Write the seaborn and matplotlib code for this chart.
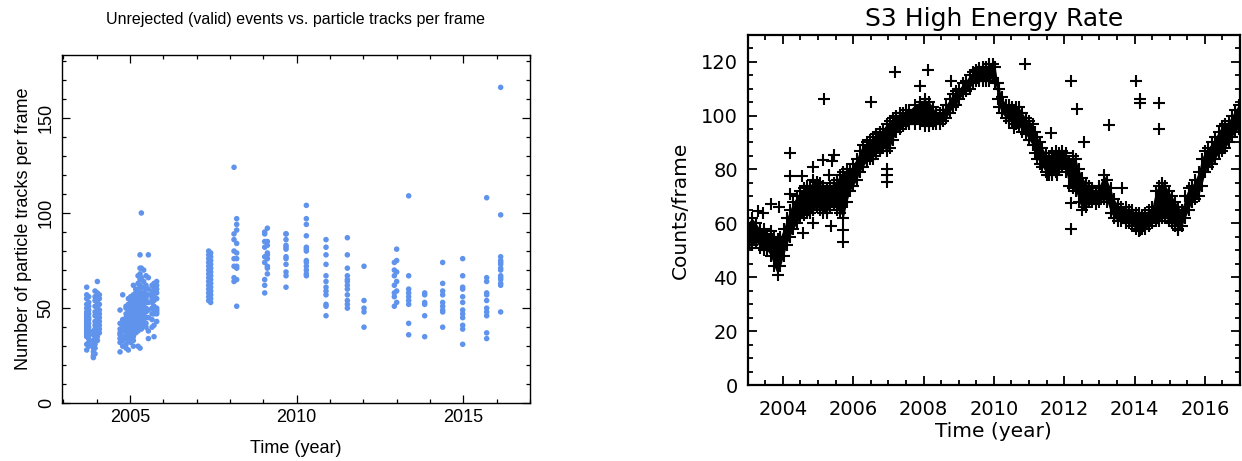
import numpy as np
import pandas as pd
import matplotlib
matplotlib.use("Agg")
import matplotlib.pyplot as plt
import seaborn as sns
from matplotlib.ticker import MultipleLocator

# ---------------- Left panel data: particle tracks per frame ----------------
track_cols = [2003.70, 2003.76, 2003.90, 2003.95, 2004.02, 2004.08,
              2004.70, 2004.78, 2004.88, 2004.95, 2005.02, 2005.10, 2005.17,
              2005.24, 2005.30, 2005.34, 2005.41, 2005.48, 2005.55, 2005.66,
              2005.72, 2005.80,
              2007.36, 2007.42, 2008.12, 2008.20, 2009.04, 2009.12, 2009.68,
              2010.29, 2010.88, 2011.52, 2012.02, 2012.93, 2013.00, 2013.36,
              2013.84, 2014.38, 2014.98, 2015.70, 2016.12]
track_vals = [
    [61, 57, 55, 52, 50, 48, 47, 46, 45, 44, 43, 42, 41, 40, 39, 38, 37, 36, 35, 31, 28],
    [56, 53, 51, 49, 47, 45, 44, 42, 40, 38, 36, 34, 32, 30],
    [24, 25, 27, 29, 31, 33, 36, 38],
    [59, 56, 54, 51, 48, 46, 43, 41, 39, 37, 35, 33, 31, 29, 26],
    [64, 58, 57, 55, 53, 50, 48, 46, 44, 43, 42, 40, 38, 35, 33],
    [57, 55, 52, 49, 47, 45, 43, 41, 39, 37],
    [49, 42, 39, 37, 36, 34, 32, 27],
    [57, 44, 42, 40, 38, 35, 33, 30],
    [51, 50, 47, 45, 43, 41, 39, 38, 36, 34, 31, 29],
    [55, 52, 50, 48, 46, 44, 42, 40, 37, 35, 33, 28],
    [56, 54, 53, 51, 49, 47, 45, 43, 41, 39, 36, 34, 32],
    [62, 57, 55, 53, 51, 50, 48, 46, 44, 42, 40, 38, 35, 33, 30],
    [60, 58, 56, 54, 52, 50, 49, 47, 45, 43, 41, 39, 37],
    [67, 63, 60, 58, 56, 54, 52, 51, 49, 47, 45, 43, 41, 38, 30],
    [78, 71, 68, 65, 62, 60, 57, 55, 53, 51, 49, 47, 45, 42, 40, 29],
    [100, 71, 66, 61, 58, 55, 52, 50, 48, 46, 44, 42, 39],
    [70, 64, 61, 58, 56, 54, 52, 50, 48, 46, 43, 41],
    [67, 62, 60, 57, 55, 53, 50, 48, 45, 42, 40],
    [78, 66, 60, 57, 53, 49, 45, 38, 34],
    [62, 59, 57, 55, 53, 50, 47, 44, 40],
    [63, 61, 58, 56, 54, 51, 49, 47, 41, 35],
    [64, 62, 60, 58, 55, 50, 49, 48, 47, 43],
    [80, 78, 76, 74, 72, 70, 68, 66, 64, 62, 60, 58, 56, 54],
    [79, 77, 75, 73, 71, 69, 67, 65, 63, 61, 59, 57, 55, 53],
    [124, 89, 86, 80, 76, 72, 66, 64],
    [97, 94, 91, 84, 79, 76, 72, 71, 65, 51],
    [90, 89, 85, 82, 77, 74, 65, 62, 58],
    [92, 85, 83, 79, 78, 76, 72, 71, 68],
    [89, 89, 86, 83, 82, 81, 77, 76, 73, 69, 67, 61],
    [104, 97, 94, 88, 82, 81, 80, 75, 74, 72, 70, 68, 67],
    [86, 82, 78, 73, 67, 64, 61, 59, 57, 52, 51, 46],
    [87, 78, 71, 67, 65, 64, 62, 60, 57, 54, 52, 50],
    [72, 54, 50, 48, 40],
    [74, 70, 67, 62, 58, 56, 51],
    [81, 75, 69, 64, 59, 53],
    [109, 67, 60, 58, 56, 54, 52, 42, 36],
    [58, 57, 53, 52, 46, 35],
    [74, 63, 59, 57, 53, 51, 49, 48, 40],
    [76, 67, 61, 60, 56, 53, 49, 47, 45, 41, 39, 31],
    [108, 66, 64, 58, 57, 54, 50, 48, 46, 37, 34],
    [166, 99, 77, 75, 74, 73, 71, 70, 67, 66, 65, 63, 62, 48],
]

# ---------------- Right panel data: S3 high energy rate ----------------
rate_years = [2003.00, 2003.12, 2003.24, 2003.36, 2003.46, 2003.55, 2003.65, 2003.75,
              2003.85, 2003.93, 2004.02, 2004.11, 2004.20, 2004.30, 2004.40, 2004.49,
              2004.60, 2004.70, 2004.77, 2004.87, 2004.96, 2005.05, 2005.15, 2005.25,
              2005.34, 2005.44, 2005.53, 2005.63, 2005.72, 2005.82, 2005.91, 2006.00,
              2006.10, 2006.19, 2006.28, 2006.38, 2006.47, 2006.57, 2006.66, 2006.76,
              2006.85, 2006.95, 2007.04, 2007.13, 2007.23, 2007.33, 2007.42, 2007.51,
              2007.60, 2007.75, 2007.89, 2008.03, 2008.17, 2008.27, 2008.36, 2008.46,
              2008.55, 2008.64, 2008.74, 2008.83, 2008.93, 2009.02, 2009.12, 2009.21,
              2009.31, 2009.40, 2009.50, 2009.59, 2009.69, 2009.78, 2009.87, 2009.97,
              2010.04, 2010.11, 2010.16, 2010.22, 2010.35, 2010.44, 2010.53, 2010.62,
              2010.72, 2010.81, 2010.91, 2011.00, 2011.10, 2011.17, 2011.24, 2011.31,
              2011.38, 2011.47, 2011.57, 2011.66, 2011.76, 2011.86, 2011.95, 2012.05,
              2012.14, 2012.24, 2012.33, 2012.42, 2012.52, 2012.62, 2012.71, 2012.80,
              2012.90, 2013.00, 2013.13, 2013.22, 2013.32, 2013.42, 2013.52, 2013.62,
              2013.75, 2013.84, 2013.94, 2014.03, 2014.12, 2014.22, 2014.31, 2014.40,
              2014.50, 2014.60, 2014.69, 2014.78, 2014.88, 2014.97, 2015.07, 2015.16,
              2015.25, 2015.35, 2015.44, 2015.54, 2015.63, 2015.72, 2015.82, 2015.91,
              2016.01, 2016.10, 2016.20, 2016.30, 2016.39, 2016.48, 2016.58, 2016.68,
              2016.77, 2016.86, 2016.96]
rate_low = [51, 52, 53, 51, 50, 50, 48, 44,
            41, 44, 48, 52, 55, 58, 60, 62,
            63, 64, 64, 65, 66, 65, 64, 64,
            66, 67, 65, 64, 62, 68, 72, 74,
            76, 79, 81, 83, 84, 85, 86, 87,
            88, 87, 88, 91, 94, 95, 96, 97,
            97, 97, 97, 96, 96, 97, 97, 97,
            98, 99, 101, 103, 104, 106, 108, 109,
            110, 112, 113, 113, 113, 113, 113, 114,
            112, 106, 103, 101, 99, 98, 98, 97,
            96, 94, 93, 91, 89, 86, 84, 82,
            81, 79, 78, 78, 79, 80, 81, 79,
            74, 73, 72, 68, 65, 66, 68, 68,
            67, 68, 69, 68, 64, 62, 61, 61,
            60, 60, 59, 58, 57, 58, 58, 59,
            60, 61, 61, 62, 62, 61, 60, 59,
            58, 59, 62, 65, 68, 69, 70, 74,
            79, 81, 82, 84, 86, 87, 88, 90,
            92, 94, 95]
rate_high = [60, 62, 60, 57.5, 58, 56, 57, 55,
             54, 55, 58, 62, 65, 68, 70, 72,
             73, 74, 74, 76, 75.5, 75, 74, 73,
             74, 75, 76, 78, 79, 80, 80, 82,
             84, 87, 89, 90, 91, 92, 93, 94,
             95, 97, 98, 99, 100, 101, 101, 102,
             102, 104, 105, 106, 105, 103, 101, 101,
             102, 104, 106, 108, 109, 110, 112, 113,
             115, 116, 117, 117.5, 118, 118, 119, 119,
             118, 112, 110, 107, 104, 104, 103, 103,
             103, 101, 99, 98, 97, 94, 92, 90,
             88, 86, 85, 86, 87, 86, 87, 86,
             83, 85, 84, 80, 77, 75, 74, 73,
             72, 74, 78, 76, 73, 69, 67, 66,
             66, 65, 65, 64, 64, 63, 64, 65,
             66, 72, 74, 75, 74, 72, 70, 68,
             66, 65, 70, 73, 74, 76, 79, 84,
             87, 88, 90, 92, 94, 96, 97, 98,
             100, 102, 104]
spike_years = [2003.28, 2003.43, 2003.67, 2003.88, 2004.19, 2004.19, 2004.19, 2004.54,
               2004.58, 2004.87, 2004.87, 2005.15, 2005.18, 2005.30, 2005.37, 2005.40,
               2005.45, 2005.72, 2005.72, 2006.52, 2006.56, 2006.95, 2006.95, 2006.95,
               2007.18, 2007.90, 2008.13, 2008.79, 2010.58, 2010.58, 2010.88, 2011.51,
               2011.62, 2011.80, 2012.20, 2012.20, 2012.20, 2012.37, 2012.56, 2013.27,
               2013.65, 2014.03, 2014.16, 2014.16, 2014.16, 2014.69, 2014.69, 2015.23]
spike_rates = [64.7, 64, 67, 66, 86, 77.6, 71, 77.6,
               56.3, 81, 60, 83.5, 106, 78, 59, 83,
               85.5, 57.5, 53, 105, 84, 75.5, 78, 80,
               116, 111, 117, 113, 95.5, 97, 119, 78,
               93.7, 78, 113, 67.5, 58, 102.5, 90, 96.5,
               73, 113, 106, 104.5, 57.5, 104.5, 95, 57.5]

# ---------------- Figure ----------------
sns.set_theme(style="ticks")
plt.rcParams['font.family'] = ['Liberation Sans', 'DejaVu Sans']
plt.rcParams['axes.linewidth'] = 1.0
plt.rcParams['text.color'] = 'black'
plt.rcParams['axes.labelcolor'] = 'black'
plt.rcParams['xtick.color'] = 'black'
plt.rcParams['ytick.color'] = 'black'

W, H = 1242, 461
fig = plt.figure(figsize=(W / 100, H / 100), dpi=100)
ax1 = fig.add_axes([61.7 / W, (H - 403.3) / H, (530 - 61.7) / W, (403.3 - 55) / H])
ax2 = fig.add_axes([747.7 / W, (H - 385) / H, (1240 - 747.7) / W, (385 - 34.7) / H])

# Left panel
left_df = pd.DataFrame({
    "year": [c for c, vals in zip(track_cols, track_vals) for _ in vals],
    "tracks": [v for vals in track_vals for v in vals],
})
sns.scatterplot(data=left_df, x="year", y="tracks", ax=ax1, color="#5f93ec",
                s=16, linewidth=0, edgecolor="none")
ax1.set_xlim(2002.95, 2017.0)
ax1.set_ylim(0, 183)
ax1.xaxis.set_major_locator(MultipleLocator(5))
ax1.xaxis.set_minor_locator(MultipleLocator(1))
ax1.yaxis.set_major_locator(MultipleLocator(50))
ax1.yaxis.set_minor_locator(MultipleLocator(10))
ax1.tick_params(which="both", direction="in", top=True, right=True, colors="black",
                labelsize=13)
ax1.tick_params(which="major", length=5.5, width=0.9)
ax1.tick_params(which="minor", length=2.6, width=0.9)
ax1.tick_params(axis="x", pad=4)
ax1.tick_params(axis="y", pad=5, labelrotation=90)
for lab in ax1.get_yticklabels():
    lab.set_va("center")
ax1.set_title("Unrejected (valid) events vs. particle tracks per frame",
              fontsize=11.5, pad=22, color="black")
ax1.set_xlabel("Time (year)", fontsize=13, labelpad=10)
ax1.set_ylabel("Number of particle tracks per frame", fontsize=13, labelpad=4)
for sp in ax1.spines.values():
    sp.set_color("black")
    sp.set_linewidth(1.0)

# Right panel
rfont = ['DejaVu Sans']
ax2.fill_between(rate_years, rate_low, rate_high, color="black", linewidth=0)
band_df = pd.DataFrame({"year": rate_years + rate_years + spike_years,
                        "rate": rate_low + rate_high + spike_rates})
sns.scatterplot(data=band_df, x="year", y="rate", ax=ax2, marker="+", color="black",
                s=70, linewidth=1.5)
ax2.set_xlim(2003.0, 2017.0)
ax2.set_ylim(0, 130)
ax2.xaxis.set_major_locator(MultipleLocator(2))
ax2.xaxis.set_minor_locator(MultipleLocator(0.5))
ax2.yaxis.set_major_locator(MultipleLocator(20))
ax2.yaxis.set_minor_locator(MultipleLocator(5))
ax2.tick_params(which="both", direction="in", top=True, right=True, colors="black",
                labelsize=14)
ax2.tick_params(which="major", length=6.5, width=1.3)
ax2.tick_params(which="minor", length=3.5, width=1.3)
ax2.tick_params(axis="x", pad=11)
ax2.tick_params(axis="y", pad=7)
for lab in ax2.get_xticklabels() + ax2.get_yticklabels():
    lab.set_family(rfont)
ax2.set_title("S3 High Energy Rate", fontsize=18, pad=6, family=rfont, color="black")
ax2.set_xlabel("Time (year)", fontsize=14.5, labelpad=2, family=rfont)
ax2.set_ylabel("Counts/frame", fontsize=14.5, labelpad=8, family=rfont)
for sp in ax2.spines.values():
    sp.set_color("black")
    sp.set_linewidth(1.6)

fig.savefig("out.png", dpi=100)
